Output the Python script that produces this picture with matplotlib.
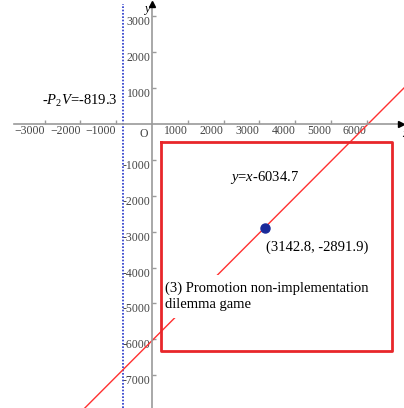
import matplotlib
matplotlib.use("Agg")
import matplotlib.pyplot as plt
import numpy as np

plt.rcParams['font.family'] = ['Liberation Serif', 'DejaVu Serif']
plt.rcParams['mathtext.fontset'] = 'custom'
plt.rcParams['mathtext.rm'] = 'Liberation Serif'
plt.rcParams['mathtext.it'] = 'Liberation Serif:italic'

# axis ticks
x_ticks = [-3000, -2000, -1000, 1000, 2000, 3000, 4000, 5000, 6000]
y_ticks = [3000, 2000, 1000, -1000, -2000, -3000, -4000, -5000, -6000, -7000]

# boundary, equilibrium line and equilibrium point
p2v_bound = -819.3
line_intercept = -6034.7
eq_point = (3142.8, -2891.9)

# dilemma region (x0, x1, y0, y1)
region_x = [250, 6700]
region_y = [-6320, -500]

xlim = (-4246, 7039)
ylim = (-7911, 3454)

fig = plt.figure(figsize=(4.04, 4.08), dpi=100)
ax = fig.add_axes([0, 0, 1, 1])
ax.set_xlim(*xlim)
ax.set_ylim(*ylim)

axis_col = '#9a9a9a'
for side in ['top', 'right']:
    ax.spines[side].set_visible(False)
for side in ['left', 'bottom']:
    ax.spines[side].set_position(('data', 0))
    ax.spines[side].set_color(axis_col)
    ax.spines[side].set_linewidth(1.2)
ax.spines['bottom'].set_bounds(-3850, 6950)
ax.spines['left'].set_bounds(ylim[0], 3330)

ax.set_xticks(x_ticks)
ax.set_yticks(y_ticks)
ax.set_xticklabels(['\u2212%d' % -t if t < 0 else str(t) for t in x_ticks])
ax.set_yticklabels(['-%d' % -t if t < 0 else str(t) for t in y_ticks])
ax.tick_params(direction='in', length=3, width=1, color=axis_col,
               labelsize=8.5, labelcolor='#444444', pad=1)
# labels sit below-left of their ticks
for lab in ax.get_xticklabels():
    lab.set_ha('right')
for lab in ax.get_yticklabels():
    lab.set_va('top')
ax.patch.set_visible(False)

# arrow heads
ax.plot([6960], [0], marker='>', color='black', markersize=5, clip_on=False, zorder=5)
ax.plot([0], [3330], marker='^', color='black', markersize=5, clip_on=False, zorder=5)
ax.text(6980, -120, 'x', fontsize=9, style='italic', ha='left', va='top')
ax.text(-80, 3050, 'y', fontsize=9, style='italic', ha='right', va='bottom')
ax.text(-120, -100, 'O', fontsize=8.5, color='#444444', ha='right', va='top')

# boundary line -P2V
ax.plot([p2v_bound, p2v_bound], [ylim[0], 3330], color='#2233c8',
        linestyle=(0, (1, 1)), linewidth=1.2, zorder=2)
ax.text(p2v_bound - 140, 650, r'-$P_{\mathrm{2}}V$=-819.3', fontsize=10.5,
        ha='right', va='center')

# region box
ax.plot([region_x[0], region_x[1], region_x[1], region_x[0], region_x[0]],
        [region_y[1], region_y[1], region_y[0], region_y[0], region_y[1]],
        color='#e8262a', linewidth=2.0, zorder=5)

# equilibrium line y = x - 6034.7
xs = np.array(xlim)
ax.plot(xs, xs + line_intercept, color='#ff3030', linewidth=1.0, zorder=2)
ax.text(2180, -1500, r'$y$=$x$-6034.7', fontsize=10.5, ha='left', va='center')

ax.plot([eq_point[0]], [eq_point[1]], 'o', color='#1a2a9a', markersize=6.5, zorder=4)
ax.text(3180, -3420, '(3142.8, -2891.9)', fontsize=10.5, ha='left', va='center')

ax.text(350, -4800, '(3) Promotion non-implementation\ndilemma game',
        fontsize=10.5, ha='left', va='center', linespacing=1.35, zorder=4,
        bbox=dict(boxstyle='square,pad=0.45', facecolor='white', edgecolor='none'))

fig.savefig('out.png', dpi=100)
